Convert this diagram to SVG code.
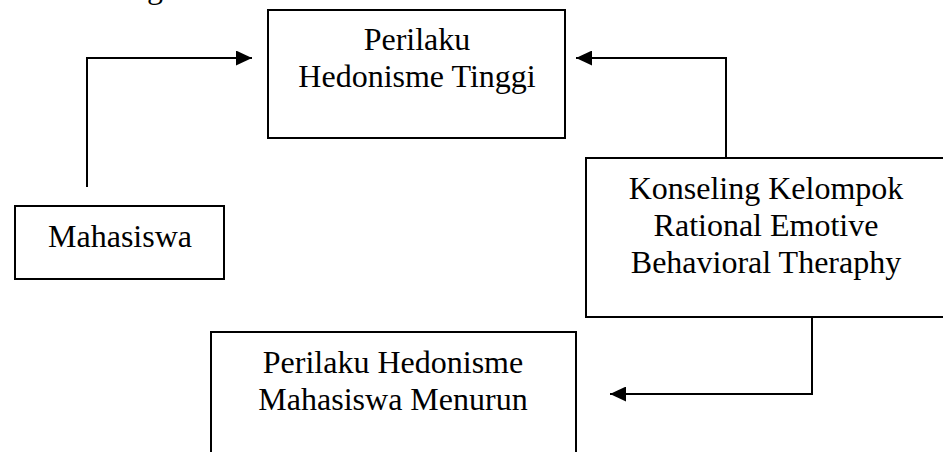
<svg xmlns="http://www.w3.org/2000/svg" width="943" height="452" viewBox="0 0 943 452">
<style>
.box{fill:#fff;stroke:#000;stroke-width:2}
.t{font-family:"Liberation Serif","Times New Roman",serif;font-size:32px;fill:#000;text-anchor:middle}
.c{fill:none;stroke:#000;stroke-width:2}
</style>
<defs>
<marker id="ah" markerUnits="userSpaceOnUse" markerWidth="16" markerHeight="15" refX="16" refY="7.5" orient="auto">
<path d="M0,0 L16,7.5 L0,15 z" fill="#000"/>
</marker>
</defs>
<rect width="943" height="452" fill="#fff"/>
<text x="147" y="-2" font-family="Liberation Serif, serif" font-size="32">g</text>
<g id="connectors">
<path class="c" d="M87,187 V58 H252" marker-end="url(#ah)"/>
<path class="c" d="M726,158 V58 H576" marker-end="url(#ah)"/>
<path class="c" d="M812,317 V394 H610" marker-end="url(#ah)"/>
</g>
<g id="n1">
<rect class="box" x="268" y="10" width="297" height="128"/>
<text class="t" x="417" y="50">Perilaku</text>
<text class="t" x="417" y="87">Hedonisme Tinggi</text>
</g>
<g id="n2">
<rect class="box" x="15" y="206" width="209" height="73"/>
<text class="t" x="120" y="247">Mahasiswa</text>
</g>
<g id="n3">
<rect class="box" x="586" y="158" width="362" height="159"/>
<text class="t" x="766" y="199">Konseling Kelompok</text>
<text class="t" x="766" y="236">Rational Emotive</text>
<text class="t" x="766" y="273">Behavioral Theraphy</text>
</g>
<g id="n4">
<rect class="box" x="211" y="332" width="365" height="130"/>
<text class="t" x="393" y="373">Perilaku Hedonisme</text>
<text class="t" x="393" y="410">Mahasiswa Menurun</text>
</g>
</svg>
